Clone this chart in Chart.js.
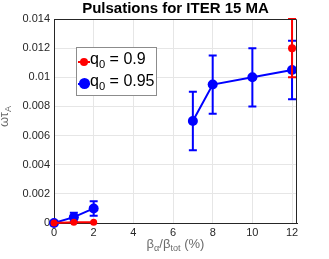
<!DOCTYPE html>
<html>
<head>
<meta charset="utf-8">
<script src="https://cdn.jsdelivr.net/npm/chart.js@4"></script>
<style>
  body { margin: 0; background: #fff; font-family: "Liberation Sans", Arial, sans-serif; }
  #wrap { position: relative; width: 329px; height: 259px; }
  #title { position: absolute; left: 54px; width: 243px; top: -1px; text-align: center; font-weight: bold; font-size: 15px; color: #000; }
  #ylab { position: absolute; left: -6px; top: 108px; transform: rotate(-90deg); font-size: 13px; color: #6b6b6b; }
  #xlab { position: absolute; left: 54px; width: 243px; top: 236px; text-align: center; font-size: 13px; color: #6b6b6b; }
  sub { font-size: 70%; vertical-align: -3px; }
  #legend { position: absolute; left: 76px; top: 47px; width: 81px; height: 49px; border: 1px solid #8c8c8c; background: #fff; box-sizing: border-box; font-size: 16px; color: #000; }
  .row { position: absolute; left: 0; height: 20px; }
  .ln { position: absolute; left: 1px; width: 12px; height: 2px; top: 11px; }
  .dot { position: absolute; border-radius: 50%; }
  .txt { position: absolute; left: 13px; top: 0; white-space: nowrap; }
  .txt sub { vertical-align: -4px; }
</style>
</head>
<body>
<div id="wrap">
  <canvas id="chart" width="329" height="259"></canvas>
  <div id="title">Pulsations for ITER 15 MA</div>
  <div id="ylab">ωτ<sub>A</sub></div>
  <div id="xlab">β<sub>α</sub>/β<sub>tot</sub> (%)</div>
  <div id="legend">
    <div class="row" style="top:2px"><div class="ln" style="background:#ff0000"></div><div class="dot" style="background:#ff0000;width:8px;height:8px;left:3px;top:8px"></div><div class="txt">q<sub>0</sub> = 0.9</div></div>
    <div class="row" style="top:24px"><div class="ln" style="background:#0000ff"></div><div class="dot" style="background:#0000ff;width:11px;height:11px;left:2px;top:6px"></div><div class="txt">q<sub>0</sub> = 0.95</div></div>
  </div>
</div>
<script>
// q0 = 0.9 (low-beta run and the single 12 % point)
const redLowX = [0, 1, 2];
const redLowY = [0, 0.00005, 0.00005];
const redLowErr = [0, 0, 0];
const redHighX = [12];
const redHighY = [0.012];
const redHighErr = [0.002];
// q0 = 0.95, two separate runs
const blueLowX = [0, 1, 2];
const blueLowY = [0, 0.0004, 0.001];
const blueLowErr = [0, 0.0003, 0.0005];
const blueHighX = [7, 8, 10, 12];
const blueHighY = [0.007, 0.0095, 0.01, 0.0105];
const blueHighErr = [0.002, 0.002, 0.002, 0.002];
const xTicks = [0, 2, 4, 6, 8, 10, 12];
const yTicks = [0, 0.002, 0.004, 0.006, 0.008, 0.01, 0.012, 0.014];

const pts = (xs, ys) => xs.map((x, i) => ({ x: x, y: ys[i] }));

function series(xs, ys, errs, color, r) {
  return {
    data: pts(xs, ys), errs: errs,
    borderColor: color, backgroundColor: color, borderWidth: 2,
    pointRadius: r, pointHoverRadius: r, pointBorderWidth: 0,
    showLine: true, tension: 0, clip: false
  };
}

// error bars drawn before each dataset's line
const errorBars = {
  id: 'errorBars',
  beforeDatasetDraw(chart, args) {
    const ds = chart.data.datasets[args.index];
    const meta = chart.getDatasetMeta(args.index);
    const c = chart.ctx, ys = chart.scales.y;
    c.save();
    c.strokeStyle = ds.borderColor;
    c.lineWidth = 2;
    meta.data.forEach((p, i) => {
      const e = ds.errs[i];
      if (!e) return;
      const v = ds.data[i].y;
      const t = ys.getPixelForValue(v + e), b = ys.getPixelForValue(v - e);
      c.beginPath();
      c.moveTo(p.x, t); c.lineTo(p.x, b);
      c.moveTo(p.x - 4, t); c.lineTo(p.x + 4, t);
      c.moveTo(p.x - 4, b); c.lineTo(p.x + 4, b);
      c.stroke();
    });
    c.restore();
  }
};

new Chart(document.getElementById('chart'), {
  type: 'scatter',
  data: {
    datasets: [
      series(redLowX, redLowY, redLowErr, '#ff0000', 3.5),
      series(redHighX, redHighY, redHighErr, '#ff0000', 4),
      series(blueLowX, blueLowY, blueLowErr, '#0000ff', 5),
      series(blueHighX, blueHighY, blueHighErr, '#0000ff', 5)
    ]
  },
  options: {
    responsive: false,
    animation: false,
    layout: { padding: { top: 19, right: 32, left: 0, bottom: 0 } },
    plugins: { legend: { display: false }, tooltip: { enabled: false } },
    scales: {
      x: {
        type: 'linear', min: 0, max: 12.25,
        afterFit: s => { s.height = 36; },
        afterBuildTicks: s => { s.ticks = xTicks.map(v => ({ value: v })); },
        ticks: { color: '#262626', font: { size: 11, family: 'Liberation Sans' }, padding: 3 },
        grid: { color: '#e6e6e6', drawTicks: false },
        border: { color: '#262626' }
      },
      y: {
        min: 0, max: 0.014,
        afterFit: s => { s.width = 54; },
        afterBuildTicks: s => { s.ticks = yTicks.map(v => ({ value: v })); },
        ticks: { color: '#262626', font: { size: 11, family: 'Liberation Sans' }, padding: 4,
          callback: v => v === 0 ? '0' : String(+v.toFixed(3)) },
        grid: { color: '#e6e6e6', drawTicks: false },
        border: { color: '#262626' }
      }
    }
  },
  plugins: [errorBars, {
    id: 'box',
    afterDraw(chart) {
      const a = chart.chartArea, c = chart.ctx;
      c.save();
      c.strokeStyle = '#262626'; c.lineWidth = 1;
      c.beginPath();
      c.moveTo(a.left, a.top + 0.5); c.lineTo(a.right - 0.5, a.top + 0.5); c.lineTo(a.right - 0.5, a.bottom);
      c.stroke();
      c.restore();
    }
  }]
});
</script>
</body>
</html>
